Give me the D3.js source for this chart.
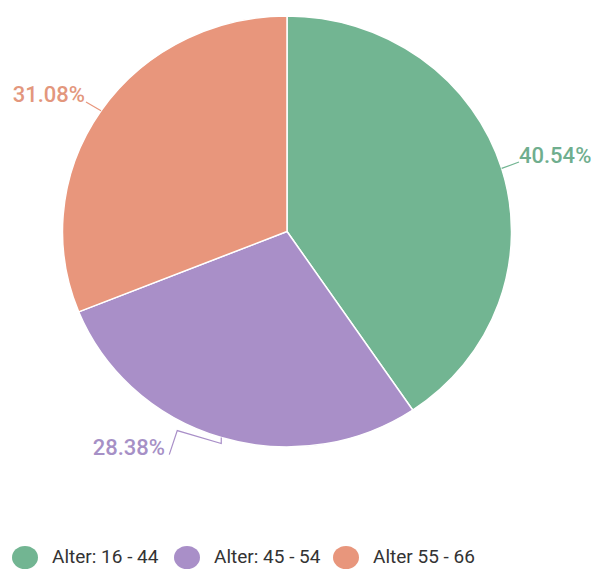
<!DOCTYPE html>
<html>
<head>
<meta charset="utf-8">
<script src="https://cdn.jsdelivr.net/npm/d3@7"></script>
<style>
  body { margin: 0; background: #fff; }
  svg { font-family: Roboto, "Noto Sans", sans-serif; }
</style>
</head>
<body>
<script>
// data
var categories = ['Alter: 16 - 44', 'Alter: 45 - 54', 'Alter 55 - 66'];
var values = [40.54, 28.38, 31.08];
var colors = ['#72b592', '#a98fc8', '#e8967c'];
var labelColors = ['#6fae8e', '#a690c6', '#e3977d'];

var width = 596, height = 570;
var cx = 287, cy = 231.5, r = 224.5, sy = 0.96;

var svg = d3.select('body').append('svg')
    .attr('width', width)
    .attr('height', height);

var pie = d3.pie().sort(null).value(function (d) { return d; });
var arcs = pie(values);
var arc = d3.arc().innerRadius(0).outerRadius(r);

var g = svg.append('g')
    .attr('transform', 'translate(' + cx + ',' + cy + ') scale(1,' + sy + ')');

g.selectAll('path')
    .data(arcs)
    .enter().append('path')
    .attr('d', arc)
    .attr('fill', function (d, i) { return colors[i]; })
    .attr('stroke', '#fff')
    .attr('stroke-width', 1.5)
    .attr('vector-effect', 'non-scaling-stroke');

// point on the pie edge at the slice's mid angle
function edge(d, extra) {
  var a = (d.startAngle + d.endAngle) / 2;
  var rr = r + (extra || 0);
  return [cx + rr * Math.sin(a), cy - rr * Math.cos(a) * sy];
}

// label placement: text anchor point and leader elbows
var labelPos = [
  { x: 519, y: 163, anchor: 'start', elbow: [] },
  { x: 165, y: 455, anchor: 'end', elbow: [[0, 6], [-44, -7], [-52, 17]] },
  { x: 85, y: 102, anchor: 'end', elbow: [] }
];

arcs.forEach(function (d, i) {
  var p = edge(d, 0);
  var lp = labelPos[i];
  var pts = [p];
  if (lp.elbow.length) {
    lp.elbow.forEach(function (e) { pts.push([p[0] + e[0], p[1] + e[1]]); });
  } else {
    pts.push([lp.x + (lp.anchor === 'start' ? 0 : 1), lp.y + (lp.anchor === 'start' ? -1 : 0)]);
  }
  svg.append('path')
    .attr('d', d3.line()(pts))
    .attr('fill', 'none')
    .attr('stroke', colors[i])
    .attr('stroke-width', 1.2);

  svg.append('text')
    .attr('x', lp.x)
    .attr('y', lp.y)
    .attr('text-anchor', lp.anchor)
    .attr('font-size', 22)
    .attr('font-weight', 500)
    .attr('fill', labelColors[i])
    .text(d3.format('.2f')(values[i]) + '%');
});

// legend
var legendX = [25, 187, 346];
var legend = svg.append('g');
categories.forEach(function (c, i) {
  legend.append('ellipse')
    .attr('cx', legendX[i])
    .attr('cy', 557.5)
    .attr('rx', 13)
    .attr('ry', 11.5)
    .attr('fill', colors[i]);
  legend.append('text')
    .attr('x', legendX[i] + 27)
    .attr('y', 563)
    .attr('font-size', 19)
    .attr('fill', '#333')
    .text(c);
});
</script>
</body>
</html>
